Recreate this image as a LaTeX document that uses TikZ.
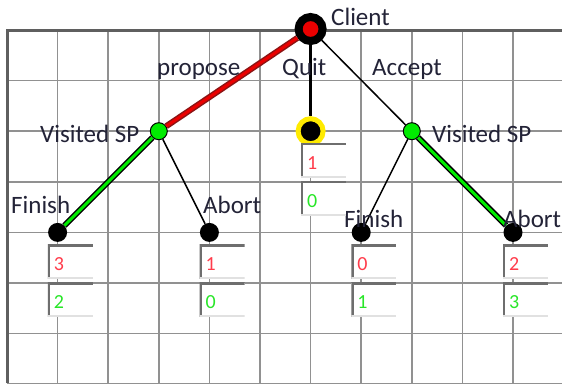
\documentclass[tikz,border=0pt]{standalone}
\usepackage{fontspec}
\setmainfont{Carlito}
\usepackage{xcolor}
\definecolor{Col1}{RGB}{145,145,145}
\definecolor{Col2}{RGB}{95,95,95}
\definecolor{Col3}{RGB}{140,20,20}
\definecolor{Col4}{RGB}{235,0,0}
\definecolor{Col5}{RGB}{0,235,0}
\definecolor{Col6}{RGB}{255,235,0}
\definecolor{Col7}{RGB}{255,60,75}
\definecolor{Col8}{RGB}{40,230,40}
\definecolor{Col9}{RGB}{35,35,55}
\definecolor{Col10}{RGB}{110,110,110}
\definecolor{Col11}{RGB}{225,225,225}
\usepackage{tikz}
\tikzstyle{Grid}=[draw=Col1,line width=1.5pt]
\tikzstyle{Border}=[draw=Col2,line width=3pt]
\tikzstyle{Root}=[circle,draw=black,fill=Col4,line width=8pt,
minimum size=24pt,inner sep=0pt]
\tikzstyle{Choice}=[circle,draw=black,fill=Col5,line width=1pt,
minimum size=17pt,inner sep=0pt]
\tikzstyle{QuitNode}=[circle,draw=Col6,fill=black,line width=5pt,
minimum size=25pt,inner sep=0pt]
\tikzstyle{Leaf}=[circle,fill=black,minimum size=19pt,inner sep=0pt]
\tikzstyle{NodeST}=[font=\fontsize{25}{30}\selectfont,text=Col9,
inner sep=0pt,anchor=base west]
\tikzstyle{Edge}=[draw=black,line width=1.5pt]
\tikzstyle{EdgeQ}=[draw=black,line width=2.5pt]
\tikzstyle{EdgeR}=[draw=Col3,double=Col4,line width=1.5pt,
double distance=3pt]
\tikzstyle{EdgeG}=[draw=black,double=Col5,line width=1.5pt,
double distance=3pt]
\tikzstyle{PayBox}=[rectangle,fill=white,anchor=north west,
minimum width=45pt,minimum height=34pt,text width=33pt,inner xsep=6pt,
inner ysep=0pt,align=left,text height=18pt,text depth=0pt,
font=\fontsize{20}{24}\selectfont,
path picture={\draw[Col10,line width=4.5pt]
    (path picture bounding box.south west)
    --(path picture bounding box.north west)
    --(path picture bounding box.north east);
  \draw[Col11,line width=3pt](path picture bounding box.south west)
    --(path picture bounding box.south east);}]

\begin{document}
\begin{tikzpicture}[x=1pt,y=-1pt]
        \useasboundingbox[fill=white](0,0)rectangle(562,383);
        % grid
        \foreach \i in {1,...,10}
            \draw[Grid](7+50.6*\i,30)--(7+50.6*\i,383);
        \foreach \j in {1,...,7}
            \draw[Grid](7,30+50.6*\j)--(562,30+50.6*\j);
        \draw[Border](7,383)--(7,30)--(562,30);
        % tree
        \node[Root](c)at(310.6,29.0){};
        \node[Choice](vl)at(158.8,131.2){};
        \node[QuitNode](q)at(310.6,131.2){};
        \node[Choice](vr)at(411.8,131.2){};
        \node[Leaf](fl)at(57.6,232.4){};
        \node[Leaf](al)at(209.4,232.4){};
        \node[Leaf](fr)at(361.2,232.4){};
        \node[Leaf](ar)at(513.0,232.4){};
        \draw[EdgeR](c)--(vl);
        \draw[EdgeQ](c)--(q);
        \draw[Edge](c)--(vr);
        \draw[EdgeG](vl)--(fl);
        \draw[Edge](vl)--(al);
        \draw[Edge](vr)--(fr);
        \draw[EdgeG](vr)--(ar);
        % labels
        \node[NodeST](tc)at(331,25){Client};
        \node[NodeST](tp)at(157,75){propose};
        \node[NodeST](tq)at(282,75){Quit};
        \node[NodeST](ta)at(372,75){Accept};
        \node[NodeST](tvl)at(40,142){Visited SP};
        \node[NodeST](tvr)at(432,142){Visited SP};
        \node[NodeST](tfl)at(11,213){Finish};
        \node[NodeST](tal)at(203,213){Abort};
        \node[NodeST](tfr)at(344,227){Finish};
        \node[NodeST](tar)at(503,227){Abort};
        % payoffs
        \node[PayBox,text=Col7](q1)at(301,143){1};
        \node[PayBox,text=Col8](q2)at(301,181){0};
        \node[PayBox,text=Col7](fl1)at(47.6,244.4){3};
        \node[PayBox,text=Col8](fl2)at(47.6,282.4){2};
        \node[PayBox,text=Col7](al1)at(199.4,244.4){1};
        \node[PayBox,text=Col8](al2)at(199.4,282.4){0};
        \node[PayBox,text=Col7](fr1)at(351.2,244.4){0};
        \node[PayBox,text=Col8](fr2)at(351.2,282.4){1};
        \node[PayBox,text=Col7](ar1)at(503.0,244.4){2};
        \node[PayBox,text=Col8](ar2)at(503.0,282.4){3};
    \end{tikzpicture}
\end{document}
